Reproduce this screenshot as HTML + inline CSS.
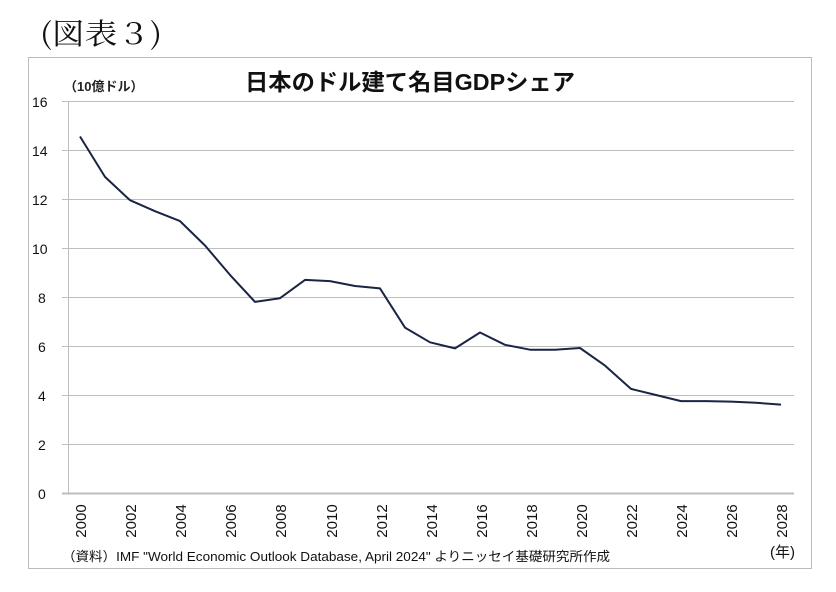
<!DOCTYPE html>
<html><head><meta charset="utf-8"><style>
body{margin:0;background:#fff;}
svg{display:block;font-family:"Liberation Sans","Noto Sans CJK JP",sans-serif;}
</style></head><body>
<svg width="836" height="592" viewBox="0 0 836 592" xmlns="http://www.w3.org/2000/svg">
<rect width="836" height="592" fill="#fff"/>
<text x="40" y="44" font-size="29" font-family="'Noto Serif CJK SC','Liberation Serif',serif" fill="#111" textLength="122" lengthAdjust="spacingAndGlyphs">(図表３)</text>
<rect x="28.5" y="57.5" width="783" height="511" fill="#fff" stroke="#bbb" stroke-width="1"/>
<text x="64" y="91" font-size="13" font-weight="bold" fill="#222">（10億ドル）</text>
<text x="410" y="90" font-size="23" font-weight="bold" text-anchor="middle" fill="#111" textLength="330" lengthAdjust="spacingAndGlyphs">日本のドル建て名目GDPシェア</text>
<g stroke="#bdbdbd" stroke-width="1">
<line x1="62" y1="101.5" x2="794" y2="101.5"/>
<line x1="62" y1="150.5" x2="794" y2="150.5"/>
<line x1="62" y1="199.5" x2="794" y2="199.5"/>
<line x1="62" y1="248.5" x2="794" y2="248.5"/>
<line x1="62" y1="297.5" x2="794" y2="297.5"/>
<line x1="62" y1="346.5" x2="794" y2="346.5"/>
<line x1="62" y1="395.5" x2="794" y2="395.5"/>
<line x1="62" y1="444.5" x2="794" y2="444.5"/>
<line x1="62" y1="493.5" x2="794" y2="493.5" stroke-width="2"/>
<line x1="68.5" y1="101" x2="68.5" y2="493"/>
</g>
<g font-size="14" fill="#111" text-anchor="start">
<text x="32" y="107">16</text><text x="32" y="156">14</text><text x="32" y="205">12</text>
<text x="32" y="254">10</text><text x="38" y="303">8</text><text x="38" y="352">6</text>
<text x="38" y="401">4</text><text x="38" y="450">2</text><text x="38" y="499">0</text>
</g>
<g font-size="15" fill="#111" text-anchor="middle">
<text transform="translate(86,521) rotate(-90)">2000</text>
<text transform="translate(136,521) rotate(-90)">2002</text>
<text transform="translate(186,521) rotate(-90)">2004</text>
<text transform="translate(236,521) rotate(-90)">2006</text>
<text transform="translate(286,521) rotate(-90)">2008</text>
<text transform="translate(337,521) rotate(-90)">2010</text>
<text transform="translate(387,521) rotate(-90)">2012</text>
<text transform="translate(437,521) rotate(-90)">2014</text>
<text transform="translate(487,521) rotate(-90)">2016</text>
<text transform="translate(537,521) rotate(-90)">2018</text>
<text transform="translate(587,521) rotate(-90)">2020</text>
<text transform="translate(637,521) rotate(-90)">2022</text>
<text transform="translate(687,521) rotate(-90)">2024</text>
<text transform="translate(737,521) rotate(-90)">2026</text>
<text transform="translate(787,521) rotate(-90)">2028</text>
</g>
<text x="62" y="561" font-size="13" fill="#111" textLength="548" lengthAdjust="spacingAndGlyphs">（資料）IMF "World Economic Outlook Database, April 2024" よりニッセイ基礎研究所作成</text>
<text x="770" y="557" font-size="15" fill="#111">(年)</text>
<polyline fill="none" stroke="#1a2444" stroke-width="2" stroke-linejoin="round" points="
80,136.5 105,176.9 130,200.2 155,211.2 180,221.1 205,245.5 230,274.9 255,301.9 280,298.2 305,279.9 330,281.1 355,286 380,288.4 405,327.6 430,342.3 455,348.4 480,332.5 505,344.8 530,349.7 555,349.7 580,348 605,365.6 631,388.9 656,395 681,401.1 706,401.1 731,401.6 756,402.8 781,404.6"/>
</svg>
</body></html>
